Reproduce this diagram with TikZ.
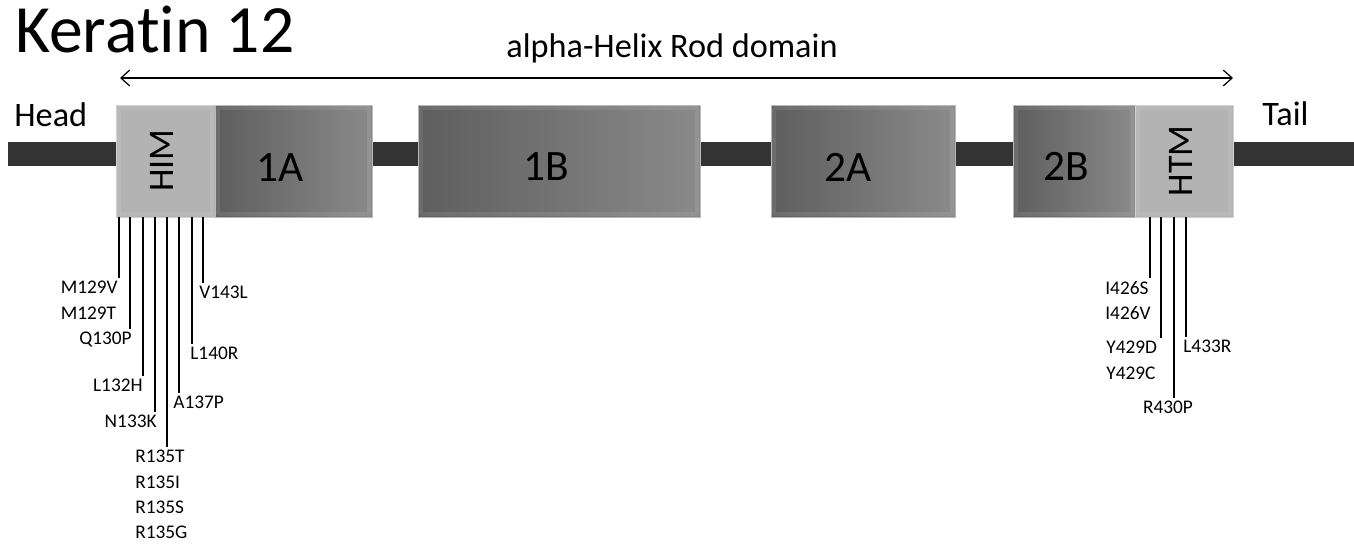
\documentclass[tikz,border=0pt]{standalone}
\usepackage{fontspec}
\setmainfont{Carlito}[Ligatures=NoCommon]
\usetikzlibrary{arrows.meta}
\definecolor{bbone}{HTML}{333333}
\definecolor{hlight}{HTML}{B3B3B3}
\definecolor{rodlo}{HTML}{5E5E5E}
\definecolor{rodhi}{HTML}{8A8A8A}
\begin{document}
\begin{tikzpicture}[x=0.02cm,y=-0.02cm,line join=round,
    >={Straight Barb[length=5pt,width=9pt]},
    rod/.style={left color=rodlo,right color=rodhi,draw=gray!55,line width=0.4pt},
    hbox/.style={fill=hlight,draw=gray!35,line width=0.4pt},
    bevel/.style={draw=white,opacity=0.09,line width=2pt},
    seg/.style={font=\fontsize{24.7}{28}\selectfont,anchor=base,inner sep=0pt},
    hlab/.style={font=\fontsize{20.5}{24}\selectfont,rotate=90,inner sep=0pt},
    big/.style={font=\fontsize{19.5}{23}\selectfont,inner sep=0pt},
    mut/.style={font=\fontsize{11}{14.3}\selectfont,inner sep=0pt,align=left},
    mline/.style={line width=0.75pt,shorten >=1.5pt}]
\useasboundingbox (0,0) rectangle (1354,544);
   \coordinate (hl) at (120,78); \coordinate (hr) at (1233,78);
   \coordinate (h1) at (119,217); \coordinate (h2) at (130,217);
   \coordinate (h3) at (143,217); \coordinate (h4) at (155,217);
   \coordinate (h5) at (167,217); \coordinate (h6) at (179,217);
   \coordinate (h7) at (192,217); \coordinate (h8) at (203,217);
   \coordinate (t1) at (1150,217); \coordinate (t2) at (1161,217);
   \coordinate (t3) at (1174,217); \coordinate (t4) at (1186,217);
% backbone and domains
   \fill[bbone] (8,142) rectangle (1354,166);
   \draw[hbox] (116,105) rectangle (215,217);
   \draw[rod] (215,105) rectangle (372,217);
   \draw[rod] (418,105) rectangle (700,217);
   \draw[rod] (771,105) rectangle (955,217);
   \draw[rod] (1013,105) rectangle (1135,217);
   \draw[hbox] (1135,105) rectangle (1233,217);
   \draw[bevel] (119,108) rectangle (212,214);
   \draw[bevel] (218,108) rectangle (369,214);
   \draw[bevel] (421,108) rectangle (697,214);
   \draw[bevel] (774,108) rectangle (952,214);
   \draw[bevel] (1016,108) rectangle (1132,214);
   \draw[bevel] (1138,108) rectangle (1230,214);
   \node[hlab] (him) at (161.5,160.5) {HIM};
   \node[seg] (s1a) at (280,181) {1A};
   \node[seg] (s1b) at (546,180) {1B};
   \node[seg] (s2a) at (848,181) {2A};
   \node[seg] (s2b) at (1066,180) {2B};
   \node[hlab] (htm) at (1181,161) {HTM};
% titles
   \node[font=\fontsize{38.5}{46}\selectfont,inner sep=0pt,anchor=base west] (title) at (15,52) {Keratin 12};
   \node[big,anchor=base] (rodlab) at (672,58) {alpha-Helix Rod domain};
   \node[big,anchor=base west] (head) at (14,126) {Head};
   \node[big,anchor=base west] (tail) at (1262,125) {Tail};
   \draw[<->,line width=0.7pt] (hl)--(hr);
% mutations, head side
   \node[mut,anchor=north east] (m129) at (118,281) {M129V\\M129T};
   \node[mut,anchor=north east] (q130) at (132,332) {Q130P};
   \node[mut,anchor=north east] (l132) at (143,379) {L132H};
   \node[mut,anchor=north east] (n133) at (157,415) {N133K};
   \node[mut,anchor=north west] (r135) at (135,450) {R135T\\R135I\\R135S\\R135G};
   \node[mut,anchor=north west] (a137) at (173,396) {A137P};
   \node[mut,anchor=north west] (l140) at (190,347) {L140R};
   \node[mut,anchor=north west] (v143) at (199,286) {V143L};
   \draw[mline] (h1)--(h1 |- m129.north);
   \draw[mline] (h2)--(h2 |- q130.north);
   \draw[mline] (h3)--(h3 |- l132.north);
   \draw[mline] (h4)--(h4 |- n133.north);
   \draw[mline] (h5)--(h5 |- r135.north);
   \draw[mline] (h6)--(h6 |- a137.north);
   \draw[mline] (h7)--(h7 |- l140.north);
   \draw[mline] (h8)--(h8 |- v143.north);
% mutations, tail side
   \node[mut,anchor=north west] (i426) at (1105,281) {I426S\\I426V};
   \node[mut,anchor=north west] (y429) at (1106,341) {Y429D\\Y429C};
   \node[mut,anchor=north] (r430) at (1168,401) {R430P};
   \node[mut,anchor=north west] (l433) at (1183,340) {L433R};
   \draw[mline] (t1)--(t1 |- i426.north);
   \draw[mline] (t2)--(t2 |- y429.north);
   \draw[mline] (t3)--(t3 |- r430.north);
   \draw[mline] (t4)--(t4 |- l433.north);
\end{tikzpicture}
\end{document}
